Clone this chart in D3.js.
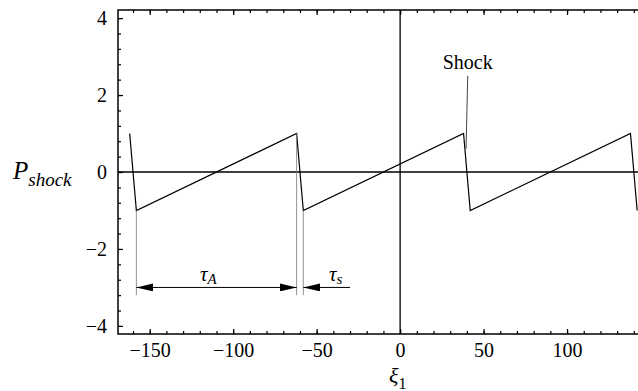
<!DOCTYPE html>
<html lang="en">
  <head>
    <meta charset="UTF-8" />
    <title>Shock pressure sawtooth</title>
    <script src="https://d3js.org/d3.v7.min.js"></script>
    <style>
      body {
        margin: 0;
        background: #fff;
      }
      svg {
        display: block;
      }
      svg text {
        font-family: "Liberation Serif", "DejaVu Serif", "Times New Roman", Times, serif !important;
        fill: #000;
      }
      .tick text {
        font-size: 20px;
      }
    </style>
  </head>
  <body>
    <svg width="638" height="391"></svg>
    <script>
      // sawtooth vertices (xi_1, P_shock)
      const sawXi = [-162, -158, -62, -58, 38, 42, 138, 142];
      const sawP = [1, -1, 1, -1, 1, -1, 1, -1];

      const xTicks = [-150, -100, -50, 0, 50, 100];
      const yTicks = [-4, -2, 0, 2, 4];
      const xMinor = d3.range(-160, 141, 10);
      const yMinor = d3.range(-4, 4.01, 0.4);

      // annotation guides
      const guideXi = [-158, -62, -58];
      const guideTop = [-1, 1, -1];
      const guideBottom = -3.2;
      const arrowP = -3;
      const tauA = [-158, -62];
      const tauS = [-30, -58];
      const shockLeader = [[40.5, 2.5], [39.5, 0.6]];

      const serif = '"Liberation Serif", "DejaVu Serif", "Times New Roman", serif';

      const svg = d3.select("svg");
      const pLeft = 118, pRight = 638, pTop = 10, pBottom = 334;

      const x = d3.scaleLinear().domain([-169, 142.5]).range([pLeft, pRight]);
      const y = d3.scaleLinear().domain([-4.21, 4.21]).range([pBottom, pTop]);

      // frame
      svg.append("path")
        .attr("d", `M${pRight + 10},${pTop}H${pLeft}V${pBottom}H${pRight + 10}`)
        .attr("fill", "none")
        .attr("stroke", "#000")
        .attr("stroke-width", 1.5);

      // minor ticks
      svg.append("g").attr("transform", `translate(0,${pBottom})`)
        .call(d3.axisBottom(x).tickValues(xMinor).tickFormat("").tickSize(-3));
      svg.append("g").attr("transform", `translate(0,${pTop})`)
        .call(d3.axisTop(x).tickValues(xMinor).tickFormat("").tickSize(-3));
      svg.append("g").attr("transform", `translate(${pLeft},0)`)
        .call(d3.axisLeft(y).tickValues(yMinor).tickFormat("").tickSize(-3));

      // major ticks + labels
      svg.append("g").attr("transform", `translate(0,${pBottom})`)
        .call(d3.axisBottom(x).tickValues(xTicks).tickSize(-5).tickPadding(9));
      svg.append("g").attr("transform", `translate(0,${pTop})`)
        .call(d3.axisTop(x).tickValues(xTicks).tickFormat("").tickSize(-5));
      svg.append("g").attr("transform", `translate(${pLeft},0)`)
        .call(d3.axisLeft(y).tickValues(yTicks).tickSize(-5).tickPadding(11));

      svg.selectAll("g").attr("font-family", serif);
      svg.selectAll(".domain").remove();
      svg.selectAll(".tick line").attr("stroke", "#000").attr("stroke-width", 1.2);

      // zero axes
      svg.append("line")
        .attr("x1", pLeft).attr("x2", pRight)
        .attr("y1", y(0)).attr("y2", y(0))
        .attr("stroke", "#000").attr("stroke-width", 1.3);
      svg.append("line")
        .attr("x1", x(0)).attr("x2", x(0))
        .attr("y1", pTop).attr("y2", pBottom)
        .attr("stroke", "#000").attr("stroke-width", 1.3);

      // sawtooth
      const line = d3.line().x((d) => x(d[0])).y((d) => y(d[1]));
      svg.append("path")
        .datum(sawXi.map((v, i) => [v, sawP[i]]))
        .attr("d", line)
        .attr("fill", "none")
        .attr("stroke", "#000")
        .attr("stroke-width", 1.2);

      // guide lines
      svg.selectAll(".guide")
        .data(guideXi)
        .enter()
        .append("line")
        .attr("x1", (d) => x(d)).attr("x2", (d) => x(d))
        .attr("y1", (d, i) => y(guideTop[i]))
        .attr("y2", y(guideBottom))
        .attr("stroke", "#777")
        .attr("stroke-width", 0.8);

      // arrow markers
      const defs = svg.append("defs");
      defs.append("marker")
        .attr("id", "head")
        .attr("markerUnits", "userSpaceOnUse")
        .attr("markerWidth", 17).attr("markerHeight", 8)
        .attr("refX", 17).attr("refY", 4)
        .attr("orient", "auto-start-reverse")
        .append("path")
        .attr("d", "M0,0L17,4L0,8Z")
        .attr("fill", "#000");

      svg.append("line")
        .attr("x1", x(tauA[0])).attr("x2", x(tauA[1]))
        .attr("y1", y(arrowP)).attr("y2", y(arrowP))
        .attr("stroke", "#000").attr("stroke-width", 1)
        .attr("marker-start", "url(#head)")
        .attr("marker-end", "url(#head)");
      svg.append("line")
        .attr("x1", x(tauS[0])).attr("x2", x(tauS[1]))
        .attr("y1", y(arrowP)).attr("y2", y(arrowP))
        .attr("stroke", "#000").attr("stroke-width", 1)
        .attr("marker-end", "url(#head)");

      // shock leader
      svg.append("path")
        .datum(shockLeader)
        .attr("d", line)
        .attr("fill", "none")
        .attr("stroke", "#444")
        .attr("stroke-width", 1);

      // labels
      const lab = svg.append("g").attr("font-family", serif);
      lab.append("text")
        .attr("x", x(40.5)).attr("y", 69)
        .attr("text-anchor", "middle")
        .attr("font-size", 20)
        .text("Shock");

      const tA = lab.append("text").attr("x", 200).attr("y", 281)
        .attr("font-size", 21).attr("font-style", "italic");
      tA.append("tspan").text("τ");
      tA.append("tspan").attr("font-size", 15).attr("dy", 3).text("A");

      const tS = lab.append("text").attr("x", 329).attr("y", 281)
        .attr("font-size", 21).attr("font-style", "italic");
      tS.append("tspan").text("τ");
      tS.append("tspan").attr("font-size", 15).attr("dy", 3).text("s");

      const pl = lab.append("text").attr("x", 13).attr("y", 179)
        .attr("font-size", 25).attr("font-style", "italic");
      pl.append("tspan").text("P");
      pl.append("tspan").attr("font-size", 19).attr("dy", 7).text("shock");

      const xl = lab.append("text").attr("x", 389).attr("y", 383)
        .attr("font-size", 22).attr("font-style", "italic");
      xl.append("tspan").text("ξ");
      xl.append("tspan").attr("font-size", 16).attr("font-style", "normal")
        .attr("dy", 6).text("1");
    </script>
  </body>
</html>
